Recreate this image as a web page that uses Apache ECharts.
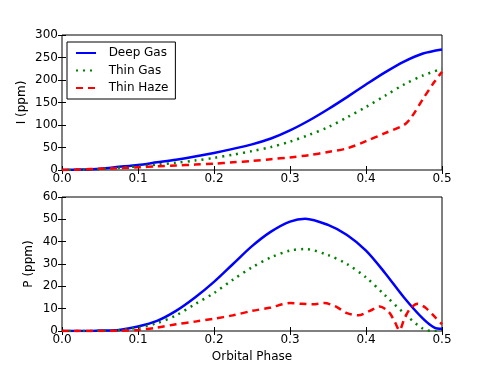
<!DOCTYPE html>
<html>
<head>
<meta charset="utf-8">
<script src="https://cdn.jsdelivr.net/npm/echarts@6/dist/echarts.min.js"></script>
<style>
html, body { margin: 0; padding: 0; background: #fff; }
#chart { width: 491px; height: 368px; }
</style>
</head>
<body>
<div id="chart"></div>
<script>
var seriesNames = ['Deep Gas', 'Thin Gas', 'Thin Haze'];
var xTicks = [0, 0.1, 0.2, 0.3, 0.4, 0.5];

// top panel: I (ppm)
var phaseI = [0, 0.025, 0.05, 0.075, 0.1, 0.125, 0.15, 0.175, 0.2, 0.225, 0.25, 0.275, 0.3, 0.325, 0.35, 0.375, 0.4, 0.425, 0.45, 0.475, 0.5];
var deepGasI = [0, 1, 3, 7, 11, 17, 23, 30, 38, 47, 57, 70, 88, 110, 135, 162, 190, 217, 241, 259, 268];
var thinGasI = [0, 0.5, 2, 5, 8, 12, 16, 21, 27, 34, 42, 51, 63, 78, 95, 117, 140, 165, 190, 210, 225];
var hazePhaseI = [0, 0.025, 0.05, 0.075, 0.1, 0.125, 0.15, 0.175, 0.2, 0.225, 0.25, 0.275, 0.3, 0.325, 0.35, 0.375, 0.4, 0.425, 0.45, 0.46, 0.475, 0.49, 0.5];
var thinHazeI = [0, 1, 3, 4, 6, 8, 10, 12, 14, 17, 20, 24, 28, 33, 40, 48, 64, 82, 100, 118, 158, 196, 218];

// bottom panel: P (ppm)
var phaseP = [0, 0.025, 0.05, 0.075, 0.1, 0.125, 0.15, 0.175, 0.2, 0.225, 0.25, 0.275, 0.3, 0.32, 0.35, 0.375, 0.4, 0.425, 0.45, 0.475, 0.49, 0.5];
var deepGasP = [0, 0, 0.2, 0.5, 2, 4.5, 9, 15, 22, 30, 38, 44.5, 49, 50.3, 47.5, 43, 36, 26, 15, 5.5, 1.5, 1];
var thinGasP = [0, 0, 0.1, 0.4, 1.5, 3.5, 7, 12, 17, 23, 28.5, 33, 36, 36.7, 34, 30, 24, 16, 8, 1, 0, 0];
var hazePhaseP = [0, 0.05, 0.075, 0.1, 0.125, 0.15, 0.175, 0.2, 0.225, 0.25, 0.275, 0.29, 0.3, 0.315, 0.33, 0.345, 0.36, 0.375, 0.39, 0.405, 0.418, 0.43, 0.438, 0.444, 0.45, 0.458, 0.468, 0.478, 0.49, 0.5];
var thinHazeP = [0, 0, 0.1, 0.5, 1.5, 3, 4.2, 5.5, 7, 9, 10.5, 12, 12.5, 12.2, 12, 12.5, 11, 8, 7, 9, 11, 8.5, 4, 0.3, 5, 10, 12.2, 10.5, 6.5, 3];

function pairs(xs, ys) {
	var out = [];
	for (var i = 0; i < xs.length; i++) {
		out.push([xs[i], ys[i]]);
	}
	return out;
}

var colors = ['#0000ff', '#008000', '#ff0000'];
var lineTypes = ['solid', [2, 5], [7, 5]];
var font = 'DejaVu Sans';

function xAxisFor(gridIndex, showLabels, name) {
	return {
		type: 'value', gridIndex: gridIndex, min: 0, max: 0.5, interval: 0.1,
		axisLine: { show: false },
		axisTick: { show: true, inside: true, length: 4, lineStyle: { color: '#000' } },
		splitLine: { show: false },
		axisLabel: {
			show: showLabels, color: '#000', fontFamily: font, fontSize: 12, margin: 3,
			formatter: function (v) { return v.toFixed(1); }
		},
		name: name || '', nameLocation: 'middle', nameGap: 20, nameMoveOverlap: false,
		nameTextStyle: { color: '#000', fontFamily: font, fontSize: 12 }
	};
}
function xTopFor(gridIndex) {
	var a = xAxisFor(gridIndex, false);
	a.position = 'top';
	return a;
}
function yAxisFor(gridIndex, max, interval, name, gap) {
	return {
		type: 'value', gridIndex: gridIndex, min: 0, max: max, interval: interval,
		axisLine: { show: false },
		axisTick: { show: true, inside: true, length: 4, lineStyle: { color: '#000' } },
		splitLine: { show: false },
		axisLabel: { color: '#000', fontFamily: font, fontSize: 12, margin: 4 },
		name: name, nameLocation: 'middle', nameRotate: 90, nameGap: gap, nameMoveOverlap: false,
		nameTextStyle: { color: '#000', fontFamily: font, fontSize: 12 }
	};
}
function yRightFor(gridIndex, max, interval) {
	var a = yAxisFor(gridIndex, max, interval, '', 0);
	a.position = 'right';
	a.axisLabel = { show: false };
	return a;
}

function line(name, idx, xAxisIndex, yAxisIndex, data) {
	return {
		name: name, type: 'line', xAxisIndex: xAxisIndex, yAxisIndex: yAxisIndex,
		data: data, symbol: 'none', showSymbol: false, smooth: 0.3, animation: false,
		lineStyle: { color: colors[idx], width: 2.5, type: lineTypes[idx] },
		itemStyle: { color: colors[idx] }
	};
}

var chart = echarts.init(document.getElementById('chart'));
var option = {
	backgroundColor: '#fff',
	animation: false,
	grid: [
		{ left: 62, top: 35, width: 380, height: 135, show: true, borderColor: '#000', borderWidth: 1, backgroundColor: 'transparent' },
		{ left: 62, top: 197, width: 380, height: 134, show: true, borderColor: '#000', borderWidth: 1, backgroundColor: 'transparent' }
	],
	legend: {
		data: seriesNames,
		orient: 'vertical', left: 67, top: 42,
		padding: [5, 7, 5, 8], itemGap: 5.5, itemWidth: 20, itemHeight: 12,
		borderColor: '#000', borderWidth: 1, borderRadius: 0,
		itemStyle: { opacity: 0 },
		textStyle: { color: '#000', fontFamily: font, fontSize: 12, lineHeight: 12 },
		formatter: function (n) { return '  ' + n; }
	},
	xAxis: [xAxisFor(0, true), xTopFor(0), xAxisFor(1, true, 'Orbital Phase'), xTopFor(1)],
	yAxis: [yAxisFor(0, 300, 50, 'I (ppm)', 34), yRightFor(0, 300, 50), yAxisFor(1, 60, 10, 'P (ppm)', 27), yRightFor(1, 60, 10)],
	series: [
		line(seriesNames[0], 0, 0, 0, pairs(phaseI, deepGasI)),
		line(seriesNames[1], 1, 0, 0, pairs(phaseI, thinGasI)),
		line(seriesNames[2], 2, 0, 0, pairs(hazePhaseI, thinHazeI)),
		line(seriesNames[0], 0, 2, 2, pairs(phaseP, deepGasP)),
		line(seriesNames[1], 1, 2, 2, pairs(phaseP, thinGasP)),
		line(seriesNames[2], 2, 2, 2, pairs(hazePhaseP, thinHazeP))
	]
};
chart.setOption(option);
</script>
</body>
</html>
